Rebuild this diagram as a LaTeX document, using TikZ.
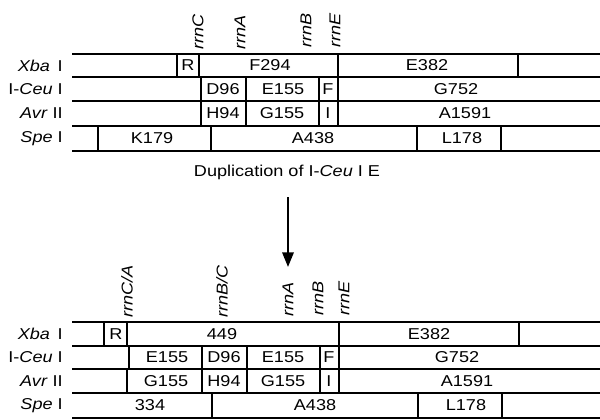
\documentclass[tikz,border=0pt]{standalone}
\usepackage{fontspec}
\setmainfont{Liberation Sans}[FakeStretch=1.15, ItalicFeatures={FakeStretch=1.15}]
\usepackage{tikz}
\usetikzlibrary{positioning,arrows.meta}
\newcommand{\mapfont}{\fontsize{11.8}{13}\selectfont}
\tikzset{
  rm line/.style={line width=1.4pt, line cap=rect},
  rm frag/.style={inner sep=0pt},
  rm enz/.style={anchor=east, inner sep=0pt},
  rm rrn/.style={rotate=90, anchor=west, inner sep=0pt, font=\mapfont\itshape},
  rm arr/.style={-{Triangle[width=8.5pt, length=11pt]}, line width=1.7pt},
}
\begin{document}
\begin{tikzpicture}[x=0.75pt, y=-0.75pt, font=\mapfont]
  \useasboundingbox (0,0) rectangle (600,419);
  % restriction maps: top/bottom of row, enzyme, cut sites, fragment labels
  \foreach \yt/\yb/\enz/\cuts/\frags in {
      54/77/{\textit{Xba}\, I}/{177,199,338,518}/{188/R,270/F294,427/E382},
      77/101/{I-\textit{Ceu} I}/{201,246,319,338}/{223/D96,283/E155,328/F,456/G752},
      101/126/{\textit{Avr} II}/{201,246,319,338}/{223/H94,282/G155,328/I,465/A1591},
      126/151/{\textit{Spe} I}/{98,211,417,501}/{152/K179,313/A438,462/L178},
      322/346/{\textit{Xba}\, I}/{104,127,339,519}/{116/R,222/449,429/E382},
      346/369/{I-\textit{Ceu} I}/{129,202,247,320,339}/{167/E155,224/D96,283/E155,329/F,457/G752},
      369/393/{\textit{Avr} II}/{127,202,247,320,339}/{166/G155,224/H94,283/G155,329/I,467/A1591},
      393/418/{\textit{Spe} I}/{212,418,502}/{150/334,315/A438,466/L178}} {
    \draw[rm line] (73,\yt) -- (600,\yt);
    \draw[rm line] (73,\yb) -- (600,\yb);
    \foreach \c in \cuts {\draw[rm line] (\c,\yt) -- (\c,\yb);}
    \foreach \fx/\ft in \frags {\node[rm frag] (frag-\yt-\fx) at (\fx,{(\yt+\yb)/2}) {\ft};}
    \node[rm enz] (enz-\yt) at (63,{(\yt+\yb)/2}) {\enz};
  }
  % rrn operons
  \foreach \rx/\ry/\rn in {198/50/rrnC, 240/50/rrnA, 306/48/rrnB, 335/48/rrnE,
      127/318/rrnC\slash A, 222/318/rrnB\slash C, 288/317/rrnA, 318/316/rrnB, 344/316/rrnE} {
    \node[rm rrn] (rrn-\rx-\ry) at (\rx,\ry) {\rn};
  }
  \node (dup) at (287,172) {Duplication of I-\textit{Ceu} I E};
  \coordinate (dupend) at (288,267);
  \draw[rm arr, shorten <=10pt] (dup.south -| dupend) -- (dupend);
\end{tikzpicture}
\end{document}
